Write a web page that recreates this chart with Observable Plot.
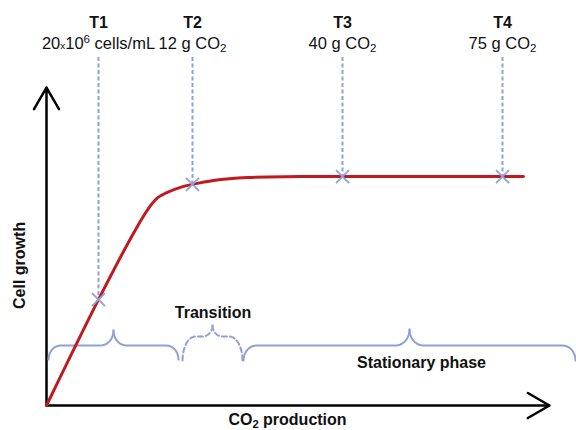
<!DOCTYPE html>
<html>
<head>
<meta charset="utf-8">
<script src="https://cdn.jsdelivr.net/npm/d3@7"></script>
<script src="https://cdn.jsdelivr.net/npm/@observablehq/plot@0.6"></script>
<style>
  html, body { margin: 0; padding: 0; background: #fff; }
  #wrap { width: 576px; }
  #wrap svg { display: block; }
</style>
</head>
<body>
<div id="wrap"></div>
<script>
// ---- data ----
const sampleNames = ["T1", "T2", "T3", "T4"];
const sampleDetails = ["20~x10^6 cells/mL", "12 g CO_2", "40 g CO_2", "75 g CO_2"];
const sampleX = [10.4, 29.2, 59.2, 91.2];
const sampleY = [35.3, 73.7, 76.3, 76.3];

const curveX = [0, 10.4, 17.8, 20.8, 22.2, 24.4, 26.8, 29.2, 33.4, 40.2, 50.8, 95.4];
const curveY = [0, 35.3, 58.6, 66.6, 69.2, 71.2, 72.7, 73.7, 75, 76, 76.3, 76.3];

const phaseNames = ["", "Transition", "Stationary phase"];
const phaseStart = [0.4, 27.2, 39.4];
const phaseEnd = [26.4, 39.2, 105.8];
const phaseMid = [13.4, 33.2, 72.6];
const phaseDashed = [false, true, false];

const xLabel = "CO_2 production";
const yLabel = "Cell growth";

// ---- build helpers ----
const blue = "#8ea1d8";
const red = "#c01a1f";

const curve = curveX.map((x, i) => ({x, y: curveY[i]}));
const samples = sampleNames.map((n, i) => ({name: n, detail: sampleDetails[i], x: sampleX[i], y: sampleY[i]}));

// brace shapes (decoration geometry derived from phase extents)
const braceStyle = [
  {base: 20, bot: 15.3, peak: 25, endRx: 2.4, peakRx: 2.6},
  {base: 23, bot: 15, peak: 26.7, endRx: 2.6, peakRx: 2.0},
  {base: 20, bot: 15, peak: 25.3, endRx: 2.6, peakRx: 2.8}
];
function quarter(cx, cy, rx, ry, a0, a1, out, z) {
  const n = 10;
  for (let k = 0; k <= n; k++) {
    const a = a0 + (a1 - a0) * k / n;
    out.push({x: cx + rx * Math.cos(a), y: cy + ry * Math.sin(a), z});
  }
}
const braceSolid = [], braceDashed = [];
phaseNames.forEach((name, i) => {
  const {base, bot, peak, endRx, peakRx} = braceStyle[i];
  const x1 = phaseStart[i], x2 = phaseEnd[i], xm = phaseMid[i];
  const out = phaseDashed[i] ? braceDashed : braceSolid;
  const ry1 = base - bot, ry2 = peak - base, P = Math.PI;
  quarter(x1 + endRx, bot, endRx, ry1, P, P / 2, out, i + "L");
  quarter(xm - peakRx, peak, peakRx, ry2, -P / 2, 0, out, i + "L");
  quarter(xm + peakRx, peak, peakRx, ry2, P, 3 * P / 2, out, i + "R");
  quarter(x2 - endRx, bot, endRx, ry1, P / 2, 0, out, i + "R");
});
const phaseLabels = phaseNames.map(n => ({name: n})).filter(d => d.name);
const phaseLabelPos = {"Transition": [33.3, 31], "Stationary phase": [75, 14.3]};

const chart = Plot.plot({
  width: 576,
  height: 430,
  marginLeft: 46,
  marginRight: 30,
  marginTop: 105,
  marginBottom: 25,
  x: {domain: [0, 100], axis: null},
  y: {domain: [0, 100], axis: null},
  style: {fontFamily: "'Liberation Sans', Arial, sans-serif", fontSize: "16px", color: "#000", background: "#fff"},
  marks: [
    Plot.arrow([{x1: 0, y1: 0, x2: 0, y2: 106}], {x1: "x1", y1: "y1", x2: "x2", y2: "y2", stroke: "#000", strokeWidth: 2.5, headLength: 15, bend: 0}),
    Plot.arrow([{x1: 0, y1: 0, x2: 100.6, y2: 0}], {x1: "x1", y1: "y1", x2: "x2", y2: "y2", stroke: "#000", strokeWidth: 2.5, headLength: 15, bend: 0}),
    Plot.line(braceSolid, {x: "x", y: "y", z: "z", stroke: blue, strokeWidth: 2}),
    Plot.line(braceDashed, {x: "x", y: "y", z: "z", stroke: blue, strokeWidth: 2, strokeDasharray: "5,3"}),
    Plot.ruleX(samples, {x: "x", y1: 116, y2: "y", stroke: blue, strokeWidth: 2, strokeDasharray: "4,2.5"}),
    Plot.line(curve, {x: "x", y: "y", stroke: red, strokeWidth: 3, curve: "catmull-rom"}),
    Plot.dot(samples, {x: "x", y: "y", symbol: "times", r: 6, stroke: blue, strokeWidth: 1.8}),
    Plot.text(samples, {x: "x", y: 126, text: "name", fontWeight: "bold", fontSize: 16, lineAnchor: "bottom", fill: "#111"}),
    Plot.text(samples, {x: "x", y: 118.7, text: "detail", fontSize: 16.5, lineAnchor: "bottom", fill: "#111"}),
    Plot.text(phaseLabels, {x: d => phaseLabelPos[d.name][0], y: d => phaseLabelPos[d.name][1], text: "name", fontWeight: "bold", fontSize: 16, fill: "#111"}),
    Plot.text([xLabel], {x: 48.2, y: -4.9, text: d => d, fontWeight: "bold", fontSize: 16, fill: "#111"}),
    Plot.text([yLabel], {x: -5.4, y: 46.7, text: d => d, fontWeight: "bold", fontSize: 16, rotate: -90, fill: "#111"})
  ]
});

// rich text: _X subscript, ^X superscript, ~X small
d3.select(chart).selectAll("text").each(function () {
  const t = this.textContent;
  if (!/[_^~]/.test(t)) return;
  const parts = t.split(/([_^~].)/).filter(s => s.length);
  const el = d3.select(this);
  el.text(null);
  let shift = 0;
  parts.forEach(p => {
    let dy = 0, size = null, txt = p;
    if (p[0] === "_") { txt = p[1]; size = "0.7em"; dy = 3 - shift; shift = 3; }
    else if (p[0] === "^") { txt = p[1]; size = "0.7em"; dy = -6 - shift; shift = -6; }
    else if (p[0] === "~") { txt = p[1]; size = "0.6em"; dy = -shift; shift = 0; }
    else { dy = -shift; shift = 0; }
    const ts = el.append("tspan").text(txt);
    if (dy) ts.attr("dy", dy);
    if (size) ts.attr("font-size", size);
  });
});

document.getElementById("wrap").appendChild(chart);
</script>
</body>
</html>
